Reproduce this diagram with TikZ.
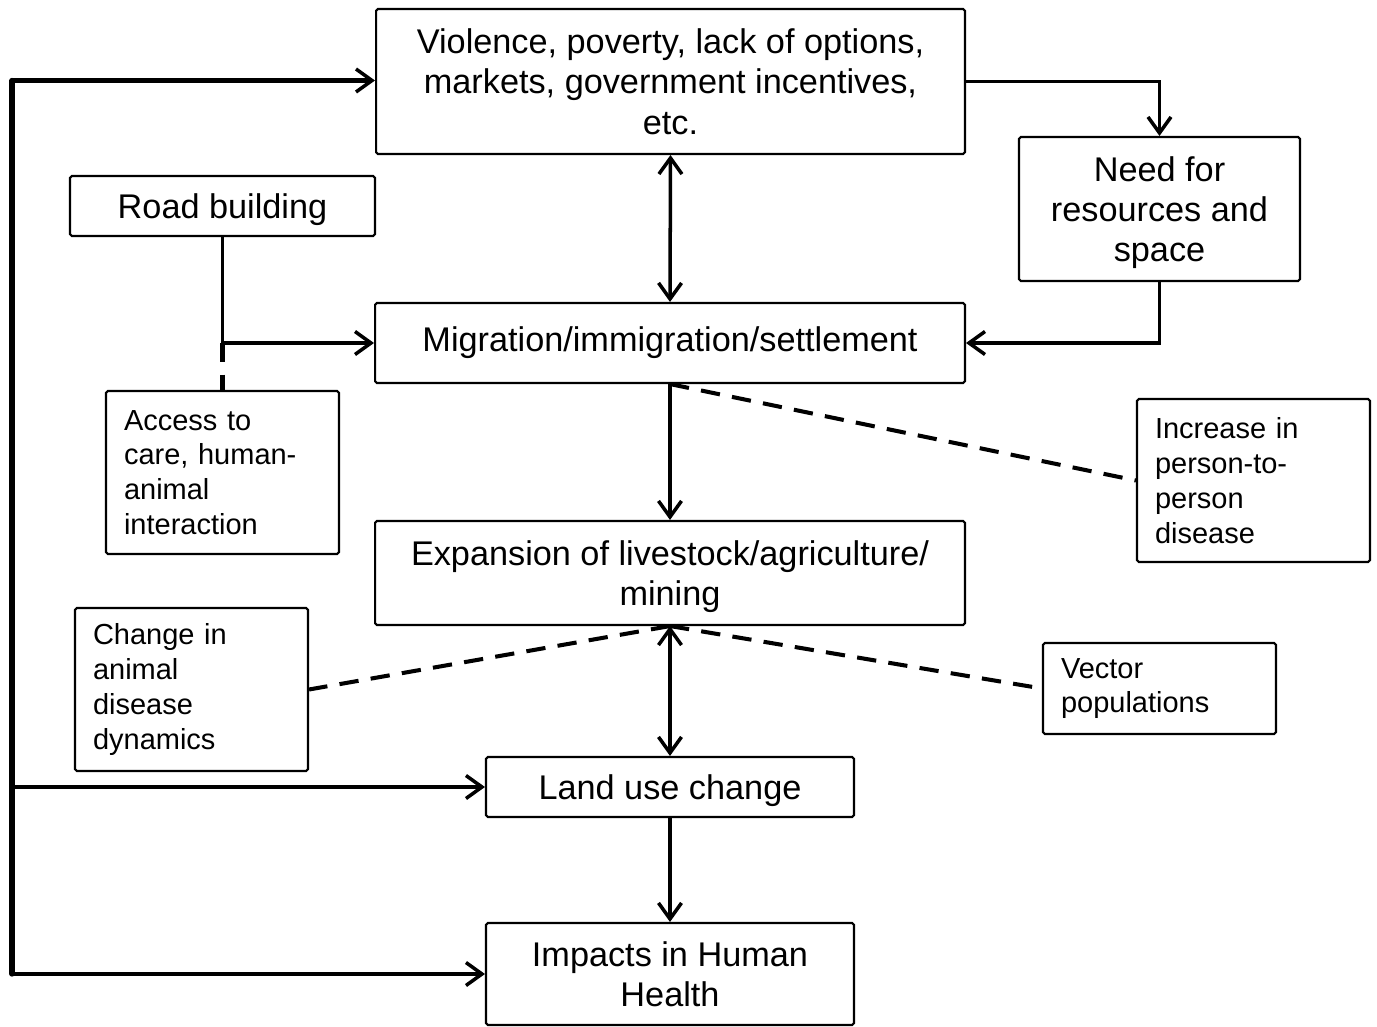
\documentclass[tikz,border=0pt]{standalone}
\usepackage{fontspec}
\setmainfont{Liberation Sans}
\usetikzlibrary{arrows.meta}

\begin{document}
\begin{tikzpicture}[x=0.02cm, y=-0.02cm,
    box/.style={draw, line width=1.2pt, rounded corners=1pt, align=center, inner sep=2pt,
        text depth=0pt, font=\fontsize{19.5}{22.9}\selectfont},
    note/.style={draw, line width=1.2pt, rounded corners=1pt, align=left, inner xsep=0.36cm,
        text width=3.94cm, minimum height=3.26cm, font=\fontsize{16.5}{19.8}\selectfont},
    tip/.tip={Straight Barb[length=3.2mm, width=4.6mm, line width=2pt]},
    arr/.style={line width=2pt, -tip},
    dbl/.style={line width=2pt, tip-tip},
    bus/.style={line width=2.6pt, -tip},
    link/.style={line width=2.3pt, dash pattern=on 11pt off 7pt}]

        \useasboundingbox (0, 0) rectangle (1377, 1027);

        % main chain
        \node[box, minimum width=11.78cm, minimum height=2.9cm] (top) at (670.5, 81.5)
            {Violence, poverty, lack of options,\\markets, government incentives,\\etc.};
        \node[box, minimum width=5.62cm, minimum height=2.88cm] (need) at (1159.5, 209)
            {Need for\\resources and\\space};
        \node[box, minimum width=6.1cm, minimum height=1.2cm] (road) at (222.5, 206) {Road building};
        \node[box, minimum width=11.8cm, minimum height=1.6cm, text depth=] (mig) at (670, 343)
            {Migration/immigration/settlement};
        \node[box, minimum width=11.8cm, minimum height=2.08cm] (exp) at (670, 573)
            {Expansion of livestock/agriculture/\\mining};
        \node[box, minimum width=7.36cm, minimum height=1.2cm] (land) at (670, 787) {Land use change};
        \node[box, minimum width=7.36cm, minimum height=2.04cm] (impacts) at (670, 974)
            {Impacts in Human\\Health};

        % side notes
        \node[note] (access) at (222.5, 472.5) {Access to\\care, human-\\animal\\interaction};
        \node[note] (incr) at (1253.5, 480.5) {Increase in\\person-to-\\person\\disease};
        \node[note] (change) at (191.5, 689.5) {Change in\\animal\\disease\\dynamics};
        \node[note, minimum height=1.82cm] (vector) at (1159.5, 688.5) {Vector\\populations};

        % feedback line on the left
        \coordinate (lt) at (12, 80.5);
        \coordinate (lb) at (12, 974);
        \draw[line width=3pt, line cap=round] (lb) -- (lt);
        \draw[bus] (lt) -- (lt -| top.west);
        \draw[bus] (lb |- land.west) -- (land.west);
        \draw[bus] (lb) -- (impacts.west);

        \draw[arr] (top.east) -| (need.north);
        \draw[arr] (need.south) |- (mig.east);
        \draw[dbl] (top.south) -- (mig.north);

        \coordinate (rj) at (road.south |- mig.west);
        \draw[line width=2pt] (road.south) -- (rj);
        \draw[arr] (rj) -- (mig.west);
        \draw[link] (rj) -- (access.north);

        \draw[arr] (mig.south) -- (exp.north);
        \draw[link] (mig.south) -- (incr.west);

        \draw[dbl] (exp.south) -- (land.north);
        \draw[link] (exp.south) -- (change.east);
        \draw[link] (exp.south) -- (vector.west);

        \draw[arr] (land.south) -- (impacts.north);

    \end{tikzpicture}
\end{document}
